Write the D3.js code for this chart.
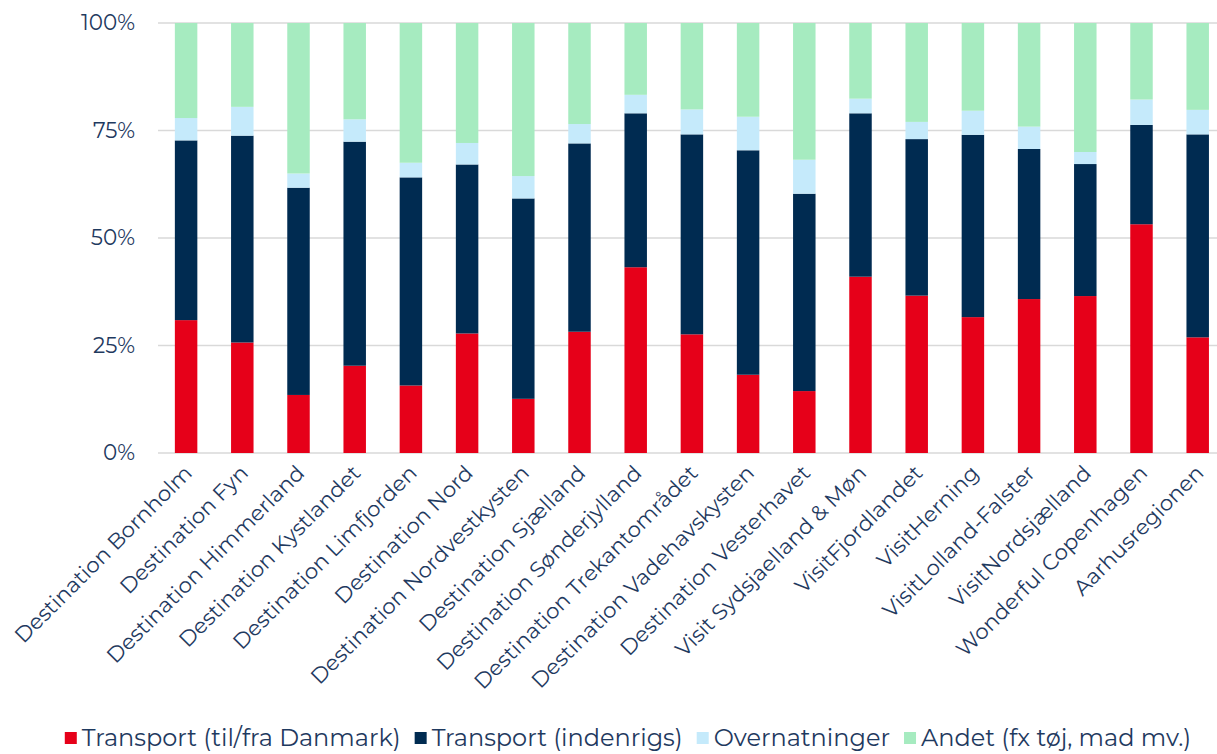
<!DOCTYPE html>
<html>
<head>
<meta charset="utf-8">
<script src="https://cdn.jsdelivr.net/npm/d3@7"></script>
<style>
  body { margin: 0; background: #fff; }
  text { font-family: Montserrat, "DejaVu Sans", sans-serif; fill: #1f3a5f; }
</style>
</head>
<body>
<div id="graph"></div>
<script>
const width = 1217;
const height = 754;

// categories (destinations)
const categories = [
  "Destination Bornholm", "Destination Fyn", "Destination Himmerland",
  "Destination Kystlandet", "Destination Limfjorden", "Destination Nord",
  "Destination Nordvestkysten", "Destination Sjælland", "Destination Sønderjylland",
  "Destination Trekantområdet", "Destination Vadehavskysten", "Destination Vesterhavet",
  "Visit Sydsjaelland & Møn", "VisitFjordlandet", "VisitHerning",
  "VisitLolland-Falster", "VisitNordsjælland", "Wonderful Copenhagen", "Aarhusregionen"
];

// series, share in %
const transportUdland = [30.9, 25.7, 13.5, 20.3, 15.7, 27.8, 12.6, 28.2, 43.2, 27.6, 18.2, 14.4, 41.0, 36.6, 31.6, 35.8, 36.5, 53.2, 26.9];
const transportIndland = [41.8, 48.1, 48.2, 52.1, 48.4, 39.3, 46.6, 43.8, 35.8, 46.5, 52.2, 45.9, 38.0, 36.4, 42.4, 34.9, 30.7, 23.1, 47.2];
const overnatninger = [5.2, 6.7, 3.3, 5.2, 3.4, 5.0, 5.2, 4.5, 4.3, 5.8, 7.8, 7.9, 3.4, 4.0, 5.6, 5.2, 2.8, 5.9, 5.7];
const andet = [22.1, 19.5, 35.0, 22.4, 32.5, 27.9, 35.6, 23.5, 16.7, 20.1, 21.8, 31.8, 17.6, 23.0, 20.4, 24.1, 30.0, 17.8, 20.2];

const seriesNames = ["Transport (til/fra Danmark)", "Transport (indenrigs)", "Overnatninger", "Andet (fx tøj, mad mv.)"];
const seriesColors = ["#e60019", "#002b51", "#c5eafb", "#a6ebc0"];
const yTicks = [0, 25, 50, 75, 100];

const keys = ["s0", "s1", "s2", "s3"];
const rows = categories.map(function(c, i) {
  return { cat: c, s0: transportUdland[i], s1: transportIndland[i], s2: overnatninger[i], s3: andet[i] };
});

const margin = { top: 23, right: 0, bottom: 301, left: 158 };

const svg = d3.select("#graph")
  .append("svg")
  .attr("width", width)
  .attr("height", height);

const xscale = d3.scaleBand()
  .domain(categories)
  .range([margin.left, margin.left + 56.2 * categories.length])
  .paddingInner(0.6)
  .paddingOuter(0.3);

const yscale = d3.scaleLinear()
  .domain([0, 100])
  .range([height - margin.bottom, margin.top]);

// gridlines
svg.append("g")
  .selectAll("line")
  .data(yTicks)
  .enter()
  .append("line")
  .attr("x1", margin.left)
  .attr("x2", width)
  .attr("y1", d => yscale(d))
  .attr("y2", d => yscale(d))
  .attr("stroke", "#d9d9d9")
  .attr("stroke-width", 1.5);

// y axis labels
const yAxis = d3.axisLeft(yscale)
  .tickValues(yTicks)
  .tickFormat(d => d + "%")
  .tickSize(0)
  .tickPadding(23);

svg.append("g")
  .attr("class", "y_axis")
  .attr("transform", "translate(" + margin.left + ",0)")
  .call(yAxis)
  .call(g => g.select(".domain").remove())
  .selectAll("text")
  .attr("font-size", "21.5px")
  .attr("font-family", null);

// stacked bars
const stack = d3.stack().keys(keys);
const layers = stack(rows);

svg.append("g")
  .selectAll("g")
  .data(layers)
  .enter()
  .append("g")
  .attr("fill", (d, i) => seriesColors[i])
  .selectAll("rect")
  .data(d => d)
  .enter()
  .append("rect")
  .attr("x", d => xscale(d.data.cat))
  .attr("width", xscale.bandwidth())
  .attr("y", d => yscale(d[1]))
  .attr("height", d => yscale(d[0]) - yscale(d[1]));

// x axis labels
const xAxis = d3.axisBottom(xscale).tickSize(0).tickPadding(0);
const xg = svg.append("g")
  .attr("class", "x_axis")
  .attr("transform", "translate(0," + (height - margin.bottom) + ")")
  .call(xAxis);
xg.select(".domain").remove();
xg.selectAll("text")
  .attr("font-size", "21.5px")
  .attr("font-family", null)
  .attr("text-anchor", "end")
  .attr("y", 0)
  .attr("dy", "0.35em")
  .attr("transform", "translate(2,16) rotate(-45)");

// legend
const legend = svg.append("g").attr("class", "legend");
let lx = 0;
seriesNames.forEach(function(name, i) {
  const item = legend.append("g").attr("transform", "translate(" + lx + ",0)");
  item.append("rect")
    .attr("x", 0)
    .attr("y", -6)
    .attr("width", 12)
    .attr("height", 12)
    .attr("fill", seriesColors[i]);
  const t = item.append("text")
    .attr("x", 17)
    .attr("dy", "0.35em")
    .attr("font-size", "24px")
    .text(name);
  lx += 17 + t.node().getComputedTextLength() + 14;
});
legend.attr("transform", "translate(" + (628 - (lx - 14) / 2) + ",738)");
</script>
</body>
</html>
